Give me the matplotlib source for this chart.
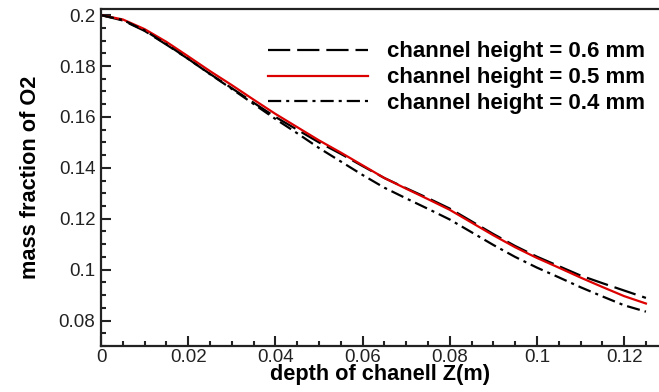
#!/usr/bin/env python
"""
Mass fraction of O2 along the channel depth for three channel heights.
"""

import matplotlib
matplotlib.use("Agg")
import matplotlib.pyplot as plt
from matplotlib.ticker import MultipleLocator, FuncFormatter

OUTPUT_PNG = "out.png"

# depth of the channel Z (m)
depth = [0.0, 0.005, 0.01, 0.015, 0.02, 0.025, 0.03, 0.035, 0.04, 0.045,
         0.05, 0.055, 0.06, 0.065, 0.07, 0.075, 0.08, 0.085, 0.09, 0.095,
         0.1, 0.105, 0.11, 0.115, 0.12, 0.125]

# mass fraction of O2 for each channel height
height_06 = [0.2000, 0.1979, 0.1938, 0.1884, 0.1828, 0.1769, 0.1713, 0.1656,
             0.1600, 0.1550, 0.1500, 0.1455, 0.1407, 0.1360, 0.1320, 0.1281,
             0.1240, 0.1190, 0.1140, 0.1093, 0.1051, 0.1014, 0.0977, 0.0947,
             0.0918, 0.0889]
height_05 = [0.2000, 0.1983, 0.1945, 0.1895, 0.1838, 0.1780, 0.1725, 0.1668,
             0.1612, 0.1560, 0.1508, 0.1460, 0.1410, 0.1360, 0.1318, 0.1277,
             0.1235, 0.1185, 0.1135, 0.1088, 0.1046, 0.1008, 0.0969, 0.0932,
             0.0896, 0.0867]
height_04 = [0.2000, 0.1981, 0.1940, 0.1886, 0.1828, 0.1768, 0.1710, 0.1651,
             0.1592, 0.1536, 0.1478, 0.1425, 0.1372, 0.1322, 0.1280, 0.1239,
             0.1197, 0.1147, 0.1097, 0.1050, 0.1008, 0.0970, 0.0931, 0.0895,
             0.0860, 0.0835]

labels = ["channel height = 0.6 mm",
          "channel height = 0.5 mm",
          "channel height = 0.4 mm"]


def tick_format(value, pos):
    """
    Formats tick values without trailing zeros, like the original plot.
    """
    return "%g" % round(value, 4)


if __name__ == "__main__":

    plt.rcParams["font.family"] = ["Liberation Sans", "DejaVu Sans"]
    plt.rcParams["lines.scale_dashes"] = False

    fig = plt.figure(figsize=(6.59, 3.92), dpi=100)
    ax = fig.add_axes([0.1533, 0.1173, 0.8467, 0.8597])

    # plot the three curves
    ax.plot(depth, height_06, color="black", linewidth=1.6,
            dashes=(16, 5), label=labels[0])
    ax.plot(depth, height_05, color="#dd0000", linewidth=1.6,
            label=labels[1])
    ax.plot(depth, height_04, color="black", linewidth=1.6,
            dashes=(9.5, 3.6, 2.2, 3.6), label=labels[2])

    ax.set_xlim(0, 0.128)
    ax.set_ylim(0.07, 0.2024)

    # ticks pointing inwards with minor ticks in between
    ax.xaxis.set_major_locator(MultipleLocator(0.02))
    ax.xaxis.set_minor_locator(MultipleLocator(0.005))
    ax.yaxis.set_major_locator(MultipleLocator(0.02))
    ax.yaxis.set_minor_locator(MultipleLocator(0.005))
    ax.xaxis.set_major_formatter(FuncFormatter(tick_format))
    ax.yaxis.set_major_formatter(FuncFormatter(tick_format))
    ax.tick_params(which="both", direction="in", width=1.5, color="#222222",
                   labelsize=13.5, labelcolor="#222222")
    ax.tick_params(which="major", length=7, pad=2)
    ax.tick_params(which="minor", length=3.5)
    ax.tick_params(axis="y", which="major", pad=4)

    for side in ["left", "bottom", "top"]:
        ax.spines[side].set_linewidth(1.6)
        ax.spines[side].set_color("#222222")
    ax.spines["right"].set_visible(False)

    ax.set_xlabel("depth of chanell Z(m)", fontsize=15.7, fontweight="bold",
                  labelpad=-1)
    ax.set_ylabel("mass fraction of O2", fontsize=15.7, fontweight="bold",
                  labelpad=13)

    legend = ax.legend(loc="upper right", bbox_to_anchor=(1.002, 0.95),
                       frameon=False, handlelength=4.5, handletextpad=0.85,
                       labelspacing=0.22, borderpad=0.2,
                       prop={"weight": "bold", "size": 16})

    fig.savefig(OUTPUT_PNG, dpi=100)
